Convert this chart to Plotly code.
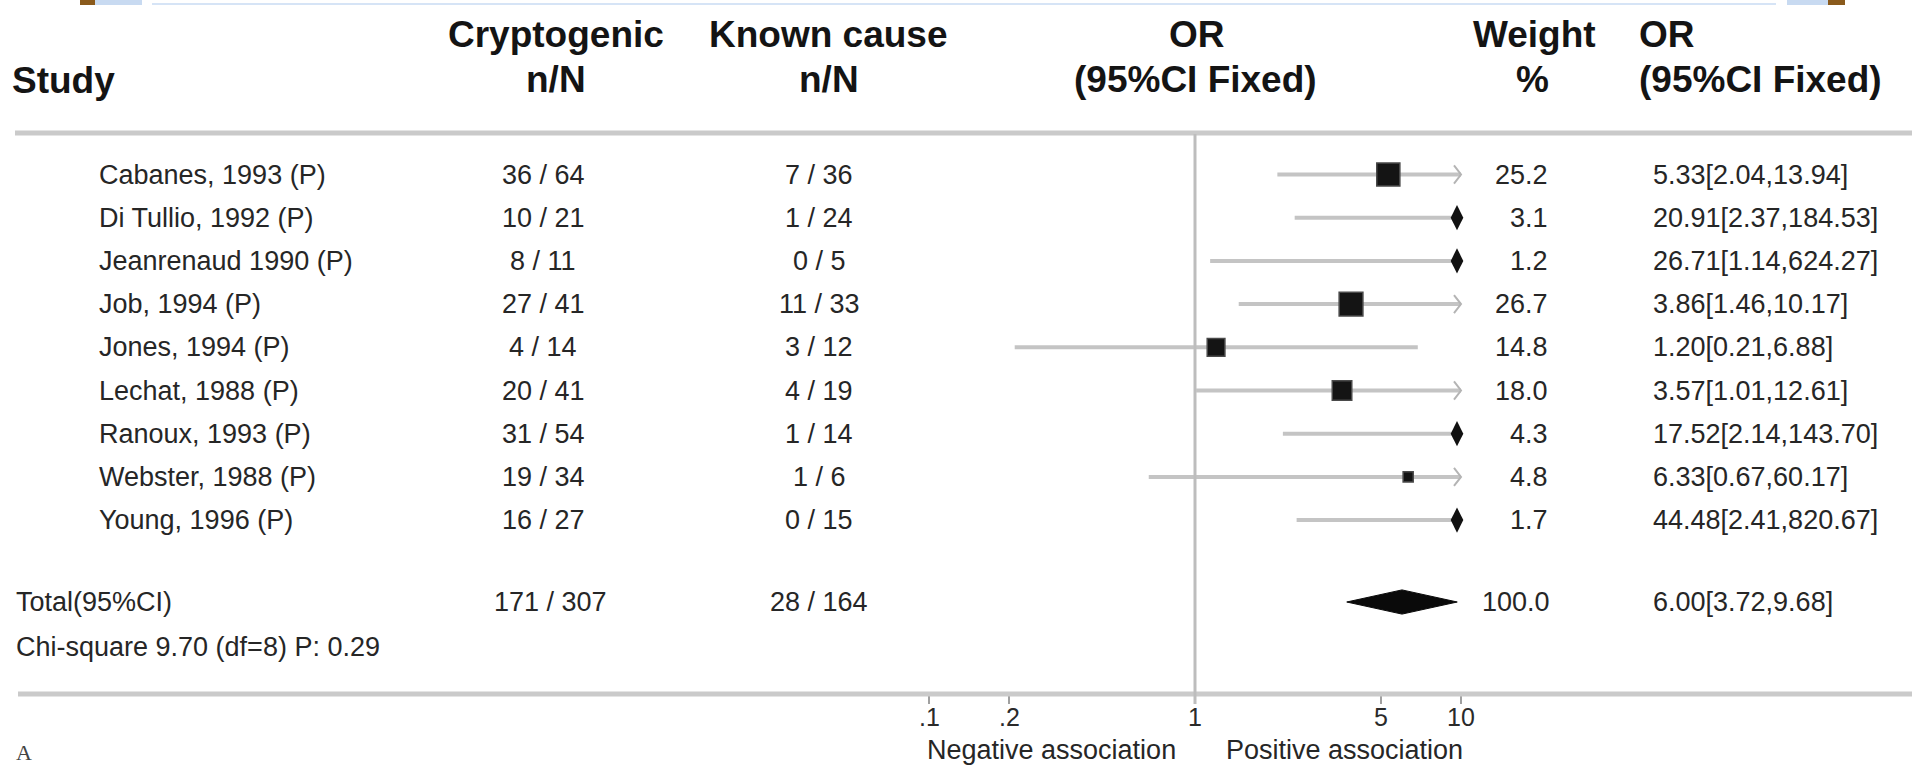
import math
import plotly.graph_objects as go

# ---------------- data ----------------
studies = ["Cabanes, 1993 (P)", "Di Tullio, 1992 (P)", "Jeanrenaud 1990 (P)",
           "Job, 1994 (P)", "Jones, 1994 (P)", "Lechat, 1988 (P)",
           "Ranoux, 1993 (P)", "Webster, 1988 (P)", "Young, 1996 (P)"]
crypto_nN = ["36 / 64", "10 / 21", "8 / 11", "27 / 41", "4 / 14",
             "20 / 41", "31 / 54", "19 / 34", "16 / 27"]
known_nN = ["7 / 36", "1 / 24", "0 / 5", "11 / 33", "3 / 12",
            "4 / 19", "1 / 14", "1 / 6", "0 / 15"]
weights = [25.2, 3.1, 1.2, 26.7, 14.8, 18.0, 4.3, 4.8, 1.7]
or_est = [5.33, 20.91, 26.71, 3.86, 1.20, 3.57, 17.52, 6.33, 44.48]
ci_low = [2.04, 2.37, 1.14, 1.46, 0.21, 1.01, 2.14, 0.67, 2.41]
ci_high = [13.94, 184.53, 624.27, 10.17, 6.88, 12.61, 143.70, 60.17, 820.67]

total_label = "Total(95%CI)"
total_crypto = "171 / 307"
total_known = "28 / 164"
total_weight = 100.0
total_or = 6.00
total_low = 3.72
total_high = 9.68
chi_text = "Chi-square 9.70 (df=8) P: 0.29"

tick_vals = [0.1, 0.2, 1, 5, 10]
tick_text = [".1", ".2", "1", "5", "10"]
axis_max = 10

# ---------------- layout geometry ----------------
W, H = 1912, 767
X_ONE_PX = 1195.0      # pixel of OR = 1
PX_DEC = 266.0         # pixels per decade
ROW0_PX = 174.5        # pixel of first study row
ROW_PX = 43.2          # pixels between rows
TOTAL_ROW = (602 - ROW0_PX) / ROW_PX
CHI_ROW = (647 - ROW0_PX) / ROW_PX


def fx(px):
    return px / W


def fy(py):
    return 1 - py / H


def log_shift(v, px):
    return v * 10 ** (px / PX_DEC)


x_range = [-X_ONE_PX / PX_DEC, (W - X_ONE_PX) / PX_DEC]
y_range = [(H - ROW0_PX) / ROW_PX, -ROW0_PX / ROW_PX]

rows = list(range(len(studies)))
fig = go.Figure()

# CI lines (clipped at axis max)
cx, cy = [], []
for i, lo, hi in zip(rows, ci_low, ci_high):
    cx += [lo, min(hi, axis_max), None]
    cy += [i, i, None]
fig.add_trace(go.Scatter(x=cx, y=cy, mode="lines",
                         line=dict(color="#c4c4c4", width=4),
                         hoverinfo="skip"))

# chevrons for truncated CIs where estimate within range
chx, chy = [], []
for i, est, hi in zip(rows, or_est, ci_high):
    if hi > axis_max and est <= axis_max:
        back = log_shift(axis_max, -7)
        chx += [back, axis_max, back, None]
        chy += [i - 0.21, i, i + 0.21, None]
fig.add_trace(go.Scatter(x=chx, y=chy, mode="lines",
                         line=dict(color="#b4b4b4", width=2),
                         hoverinfo="skip"))

# squares for in-range estimates
sq = [(i, e, w) for i, e, w in zip(rows, or_est, weights) if e <= axis_max]
fig.add_trace(go.Scatter(
    x=[s[1] for s in sq], y=[s[0] for s in sq], mode="markers",
    marker=dict(symbol="square", size=[4.6 * math.sqrt(s[2]) for s in sq],
                color="#141414", opacity=1, line=dict(color="#4a4a4a", width=1.5)),
    hoverinfo="skip"))

# off-scale estimates: black mark at the axis edge
off = [i for i, e in zip(rows, or_est) if e > axis_max]
fig.add_trace(go.Scatter(
    x=[log_shift(axis_max, -4)] * len(off), y=off, mode="markers",
    marker=dict(symbol="diamond-tall", size=18, color="#111", opacity=1),
    hoverinfo="skip"))

# pooled diamond
h = 0.28
fig.add_trace(go.Scatter(
    x=[total_low, total_or, total_high, total_or, total_low],
    y=[TOTAL_ROW, TOTAL_ROW - h, TOTAL_ROW, TOTAL_ROW + h, TOTAL_ROW],
    mode="lines", fill="toself", fillcolor="#0a0a0a",
    line=dict(color="#0a0a0a", width=1), hoverinfo="skip"))

# ---------------- text ----------------
ann = []
FAM = "Liberation Sans, Arial, sans-serif"
DATA_FONT = dict(family=FAM, size=27, color="#262626")
HEAD_FONT = dict(family=FAM, size=37, color="#141414")


def add_row_text(text, px, row, anchor, font=DATA_FONT):
    ann.append(dict(text=text, x=fx(px), xref="paper", y=row, yref="y",
                    xanchor=anchor, yanchor="middle", showarrow=False, font=font))


def add_head(text, px, py, anchor):
    ann.append(dict(text="<b>%s</b>" % text, x=fx(px), xref="paper", y=fy(py),
                    yref="paper", xanchor=anchor, yanchor="middle",
                    showarrow=False, font=HEAD_FONT))


add_head("Study", 10, 81, "left")
add_head("Cryptogenic", 556, 34, "center")
add_head("n/N", 556, 79, "center")
add_head("Known cause", 828, 34, "center")
add_head("n/N", 829, 79, "center")
add_head("OR", 1197, 34, "center")
add_head("(95%CI Fixed)", 1195, 79, "center")
add_head("Weight", 1534, 34, "center")
add_head("%", 1532, 79, "center")
add_head("OR", 1637, 34, "left")
add_head("(95%CI Fixed)", 1637, 79, "left")

for i in rows:
    add_row_text(studies[i], 97, i, "left")
    add_row_text(crypto_nN[i], 543, i, "center")
    add_row_text(known_nN[i], 819, i, "center")
    add_row_text("%.1f" % weights[i], 1550, i, "right")
    add_row_text("%.2f[%.2f,%.2f]" % (or_est[i], ci_low[i], ci_high[i]), 1651, i, "left")

add_row_text(total_label, 14, TOTAL_ROW, "left")
add_row_text(total_crypto, 550, TOTAL_ROW, "center")
add_row_text(total_known, 819, TOTAL_ROW, "center")
add_row_text("%.1f" % total_weight, 1552, TOTAL_ROW, "right")
add_row_text("%.2f[%.2f,%.2f]" % (total_or, total_low, total_high), 1651, TOTAL_ROW, "left")
add_row_text(chi_text, 14, CHI_ROW, "left")

# tick labels of the OR axis
for v, t in zip(tick_vals, tick_text):
    ann.append(dict(text=t, x=math.log10(v), xref="x", y=fy(717), yref="paper",
                    xanchor="center", yanchor="middle", showarrow=False,
                    font=dict(family=FAM, size=25, color="#2a2a2a")))

BOT_FONT = dict(family=FAM, size=27, color="#262626")
ann.append(dict(text="Negative association", x=fx(1178), xref="paper", y=fy(750),
                yref="paper", xanchor="right", yanchor="middle", showarrow=False,
                font=BOT_FONT))
ann.append(dict(text="Positive association", x=fx(1224), xref="paper", y=fy(750),
                yref="paper", xanchor="left", yanchor="middle", showarrow=False,
                font=BOT_FONT))
ann.append(dict(text="A", x=fx(14), xref="paper", y=fy(752), yref="paper",
                xanchor="left", yanchor="middle", showarrow=False,
                font=dict(family="Liberation Serif, serif", size=22, color="#444")))

# ---------------- shapes ----------------
shapes = [
    # header rule and bottom rule
    dict(type="line", xref="paper", yref="paper", x0=fx(15), x1=1, y0=fy(133), y1=fy(133),
         line=dict(color="#cacaca", width=5)),
    dict(type="line", xref="paper", yref="paper", x0=fx(18), x1=1, y0=fy(694), y1=fy(694),
         line=dict(color="#cacaca", width=5)),
    # no-effect line
    dict(type="line", xref="x", yref="paper", x0=1, x1=1, y0=fy(134), y1=fy(704),
         line=dict(color="#bdbdbd", width=3)),
    # top window fragments
    dict(type="rect", xref="paper", yref="paper", x0=fx(80), x1=fx(95), y0=fy(5), y1=1,
         line=dict(width=0), fillcolor="#8a5a1c"),
    dict(type="rect", xref="paper", yref="paper", x0=fx(95), x1=fx(142), y0=fy(5), y1=1,
         line=dict(width=0), fillcolor="#c8daf1"),
    dict(type="rect", xref="paper", yref="paper", x0=fx(152), x1=fx(1776), y0=fy(5), y1=fy(3),
         line=dict(width=0), fillcolor="#d6e4f6"),
    dict(type="rect", xref="paper", yref="paper", x0=fx(1787), x1=fx(1828), y0=fy(5), y1=1,
         line=dict(width=0), fillcolor="#c8daf1"),
    dict(type="rect", xref="paper", yref="paper", x0=fx(1828), x1=fx(1845), y0=fy(5), y1=1,
         line=dict(width=0), fillcolor="#8a5a1c"),
]

fig.update_layout(
    width=W, height=H, margin=dict(l=0, r=0, t=0, b=0),
    paper_bgcolor="white", plot_bgcolor="white", showlegend=False,
    annotations=ann, shapes=shapes,
    xaxis=dict(type="log", range=x_range, domain=[0, 1], anchor="free",
               position=fy(694), tickvals=tick_vals, ticktext=tick_text,
               showticklabels=False,
               ticks="outside", ticklen=9, tickwidth=2, tickcolor="#a0a0a0",
               showgrid=False, zeroline=False, showline=False,
               fixedrange=True),
    yaxis=dict(range=y_range, domain=[0, 1], visible=False, fixedrange=True),
)

fig.write_html("out.html")
